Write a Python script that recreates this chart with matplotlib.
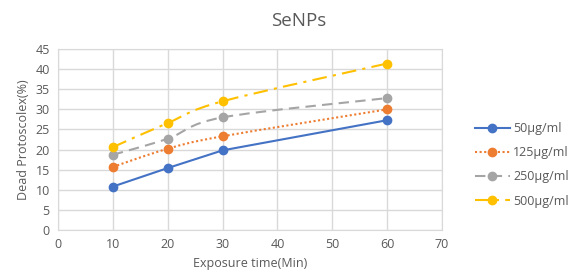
import matplotlib.pyplot as plt
import numpy as np
from matplotlib.path import Path
from matplotlib.patches import PathPatch
from matplotlib.lines import Line2D

# data
times = [10, 20, 30, 60]
conc_labels = ['50µg/ml', '125µg/ml', '250µg/ml', '500µg/ml']
dead_50 = [10.8, 15.4, 19.8, 27.3]
dead_125 = [15.7, 20.2, 23.3, 30.0]
dead_250 = [18.7, 22.7, 28.0, 32.8]
dead_500 = [20.6, 26.6, 32.0, 41.4]

colors = ['#4472C4', '#ED7D31', '#A5A5A5', '#FFC000']
styles = ['-', (0, (1, 1.2)), (0, (5, 3)), (0, (7, 3, 1.5, 3))]
smooth = [False, True, True, True]

txt = '#595959'
plt.rcParams['font.family'] = ['Open Sans', 'DejaVu Sans']


def smooth_path(x, y):
    """Excel-like smoothed line: cubic bezier through the points (Catmull-Rom)."""
    pts = np.column_stack([x, y]).astype(float)
    n = len(pts)
    verts = [pts[0]]
    codes = [Path.MOVETO]
    for i in range(n - 1):
        p0 = pts[max(i - 1, 0)]
        p1 = pts[i]
        p2 = pts[i + 1]
        p3 = pts[min(i + 2, n - 1)]
        c1 = p1 + (p2 - p0) / 6
        c2 = p2 - (p3 - p1) / 6
        verts += [c1, c2, p2]
        codes += [Path.CURVE4] * 3
    return Path(verts, codes)


fig = plt.figure(figsize=(5.72, 2.77), dpi=100)
ax = fig.add_axes([0.1014, 0.1697, 0.6713, 0.6533])

series = [dead_50, dead_125, dead_250, dead_500]
handles = []
for vals, c, ls, sm, lab in zip(series, colors, styles, smooth, conc_labels):
    if sm:
        patch = PathPatch(smooth_path(times, vals), facecolor='none', edgecolor=c,
                          lw=1.5, linestyle=ls, zorder=3)
        ax.add_patch(patch)
        ax.plot(times, vals, linestyle='none', marker='o', ms=6, color=c, zorder=4)
    else:
        ax.plot(times, vals, linestyle=ls, lw=1.5, marker='o', ms=6, color=c, zorder=4)
    handles.append(Line2D([], [], color=c, linestyle=ls, lw=1.5, marker='o', ms=6, label=lab))

ax.set_xlim(0, 70)
ax.set_ylim(0, 45)
ax.set_xticks(np.arange(0, 71, 10))
ax.set_yticks(np.arange(0, 46, 5))
ax.grid(True, color='#D9D9D9', lw=1)
ax.set_axisbelow(True)
for s in ax.spines.values():
    s.set_color('#D9D9D9')
ax.tick_params(length=0, colors=txt, labelsize=9, pad=6)

fig.text(0.523, 0.925, 'SeNPs', color=txt, fontsize=13.5, ha='center', va='center')
ax.set_xlabel('Exposure time(Min)', color=txt, fontsize=9, labelpad=4)
ax.set_ylabel('Dead Protoscolex(%)', color=txt, fontsize=9, labelpad=4)

fig.legend(handles=handles, loc='center left', bbox_to_anchor=(0.81, 0.405),
           frameon=False, fontsize=9, labelcolor=txt, handlelength=2.8,
           labelspacing=0.9, handletextpad=0.3)

fig.savefig('out.png', dpi=100)
